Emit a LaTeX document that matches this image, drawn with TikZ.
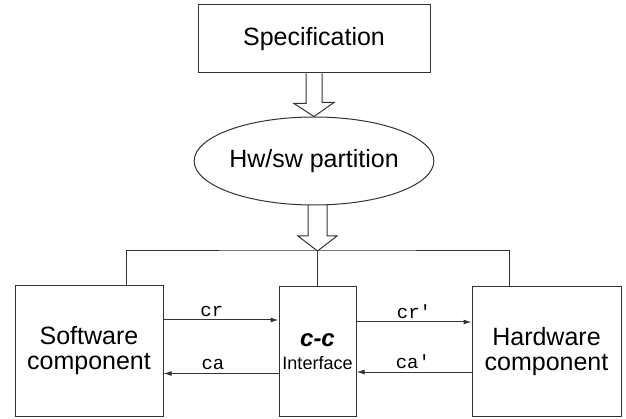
\documentclass[tikz,border=0pt]{standalone}
\usepackage{fontspec}
\setmainfont{Liberation Sans}
\setmonofont{Liberation Mono}
\usetikzlibrary{arrows.meta,shapes.geometric}

\begin{document}
\begin{tikzpicture}[x=1pt,y=-1pt,line width=1pt,
	box/.style={shape=rectangle,draw=black!80,inner sep=0pt,align=center,font=\fontsize{25}{25}\selectfont},
	lbl/.style={font=\ttfamily\fontsize{19}{19}\selectfont,inner sep=3pt},
	sig/.style={draw=black!80,-{Latex[length=8pt,width=5pt]}},
	fat/.style={draw=black!80,line join=miter}]

	\useasboundingbox (0,0) rectangle (626,419);

	\node[box,minimum width=232pt,minimum height=68pt] (spec) at (314,39)     {Specification};
	\node[box,shape=ellipse,minimum width=232pt,minimum height=88pt] (part) at (314,161)     {Hw/sw partition};
	\node[box,minimum width=148pt,minimum height=130pt] (sw) at (89,351)     {Software\\component};
	\node[box,minimum width=77pt,minimum height=129pt,font=\fontsize{18}{23}\selectfont] (cc) at (317.5,351.5)     {{\fontsize{24}{23}\selectfont\bfseries\itshape c-c}\\Interface};
	\node[box,minimum width=149pt,minimum height=129pt] (hw) at (546.5,351.5)     {Hardware\\component};
	\coordinate (split) at (317.5,251);

	% hollow arrows
	\draw[fat] ([xshift=-8pt]spec.south) -- ++(0,30) -- ++(-12,0) -- (part.north) -- ++(20,-14) -- ++(-12,0) -- ([xshift=8pt]spec.south);
	\draw[fat] (split) -- ++(-19.5,-15) -- ++(10,0) -- ++(0,-31);
	\draw[fat] (split) -- ++(19.5,-15) -- ++(-10,0) -- ++(0,-31);

	% distribution lines
	\draw[draw=black!80] ([xshift=37pt]sw.north) |- (split) -| ([xshift=-37.5pt]hw.north);
	\draw[draw=black!80] (split) -- (cc.north);

	% signals
	\draw[sig] ([yshift=31pt]sw.east) -- node[lbl,above,pos=0.42] {cr} ([yshift=31pt]sw.east -| cc.west);
	\draw[sig] ([yshift=-22pt]cc.west) -- node[lbl,above,pos=0.57] {ca} ([yshift=-22pt]cc.west -| sw.east);
	\draw[sig] ([yshift=29.5pt]cc.east) -- node[lbl,above] {cr'} ([yshift=29.5pt]cc.east -| hw.west);
	\draw[sig] ([yshift=-20.5pt]hw.west) -- node[lbl,above,pos=0.51] {ca'} ([yshift=-20.5pt]hw.west -| cc.east);
\end{tikzpicture}
\end{document}
